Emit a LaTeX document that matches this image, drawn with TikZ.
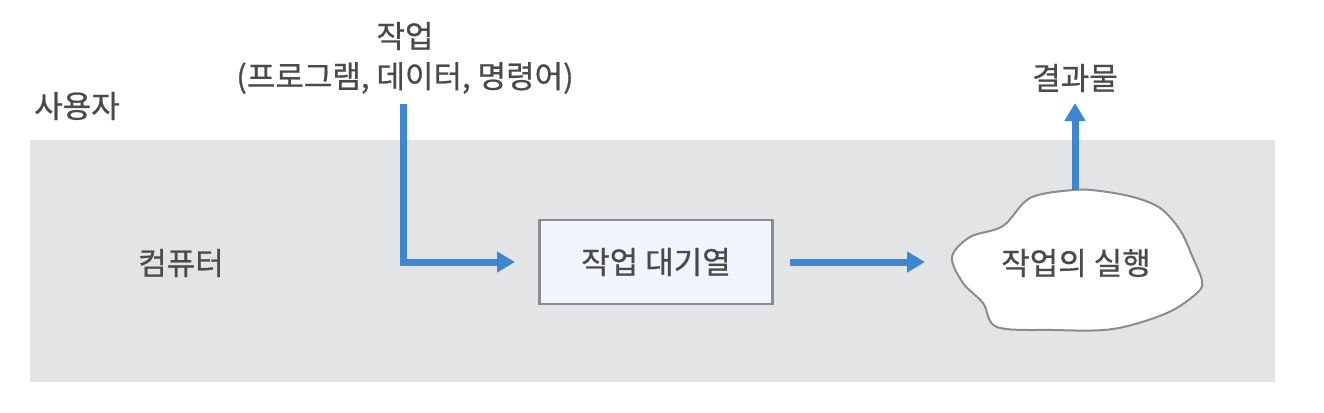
\documentclass[tikz,border=0pt]{standalone}
\usepackage{fontspec}
\setmainfont{Noto Sans CJK KR}
\newfontfamily\lblfont{Noto Sans CJK KR}[FakeBold=0.7]
\usetikzlibrary{arrows.meta}
\definecolor{bg}{HTML}{E3E4E6}
\definecolor{ink}{HTML}{4A4A4A}
\definecolor{flow}{HTML}{3C86D2}
\definecolor{boxfill}{HTML}{F1F5FD}
\definecolor{edge}{HTML}{8C8C8C}
\tikzset{
  lbl/.style={text=ink, font=\lblfont\fontsize{31}{37}\selectfont, inner sep=0pt},
  flowarrow/.style={draw=flow, line width=7pt, -{Triangle[length=18pt,width=20pt]}},
  queuebox/.style={draw=edge, fill=boxfill, line width=2.5pt, minimum width=233pt, minimum height=84pt, inner sep=0pt},
}
\begin{document}
\begin{tikzpicture}[x=1pt,y=-1pt]
\useasboundingbox (0,0) rectangle (1324,412);
\fill[white] (0,0) rectangle (1324,412);
\fill[bg] (30,140) rectangle (1275,382);
\node[lbl] (user) at (77,106) {사용자};
\node[lbl] (comp) at (181,263) {컴퓨터};
\node[lbl] (job) at (405,36) {작업};
\node[lbl] (jobdet) at (405,78) {(프로그램, 데이터, 명령어)};
\node[queuebox, lbl] (queue) at (656,262) {작업 대기열};
\node[lbl] (result) at (1075,78) {결과물};
\draw[edge, line width=2pt, fill=white] plot[smooth cycle, tension=0.55] coordinates {
 (1073,190) (1030,198) (1003,226) (970,237) (952,257) (963,283) (983,303)
 (997,327) (1053,330) (1113,329) (1167,313) (1197,293) (1202,281) (1193,258)
 (1180,230) (1160,208) (1133,197) (1100,191)};
\node[lbl] (exec) at (1076,263) {작업의 실행};
\coordinate (exectop) at (1075,190);
\coordinate (corner) at (403,262);
\coordinate (qin) at (515,262);
\coordinate (qout) at (790,262);
\coordinate (cin) at (925,262);
\coordinate (rout) at (1075,103);
\draw[flowarrow] (403,104) -- (corner) -- (qin);
\draw[flowarrow] (qout) -- (cin);
\draw[flowarrow] (exectop) -- (rout);
\end{tikzpicture}
\end{document}
